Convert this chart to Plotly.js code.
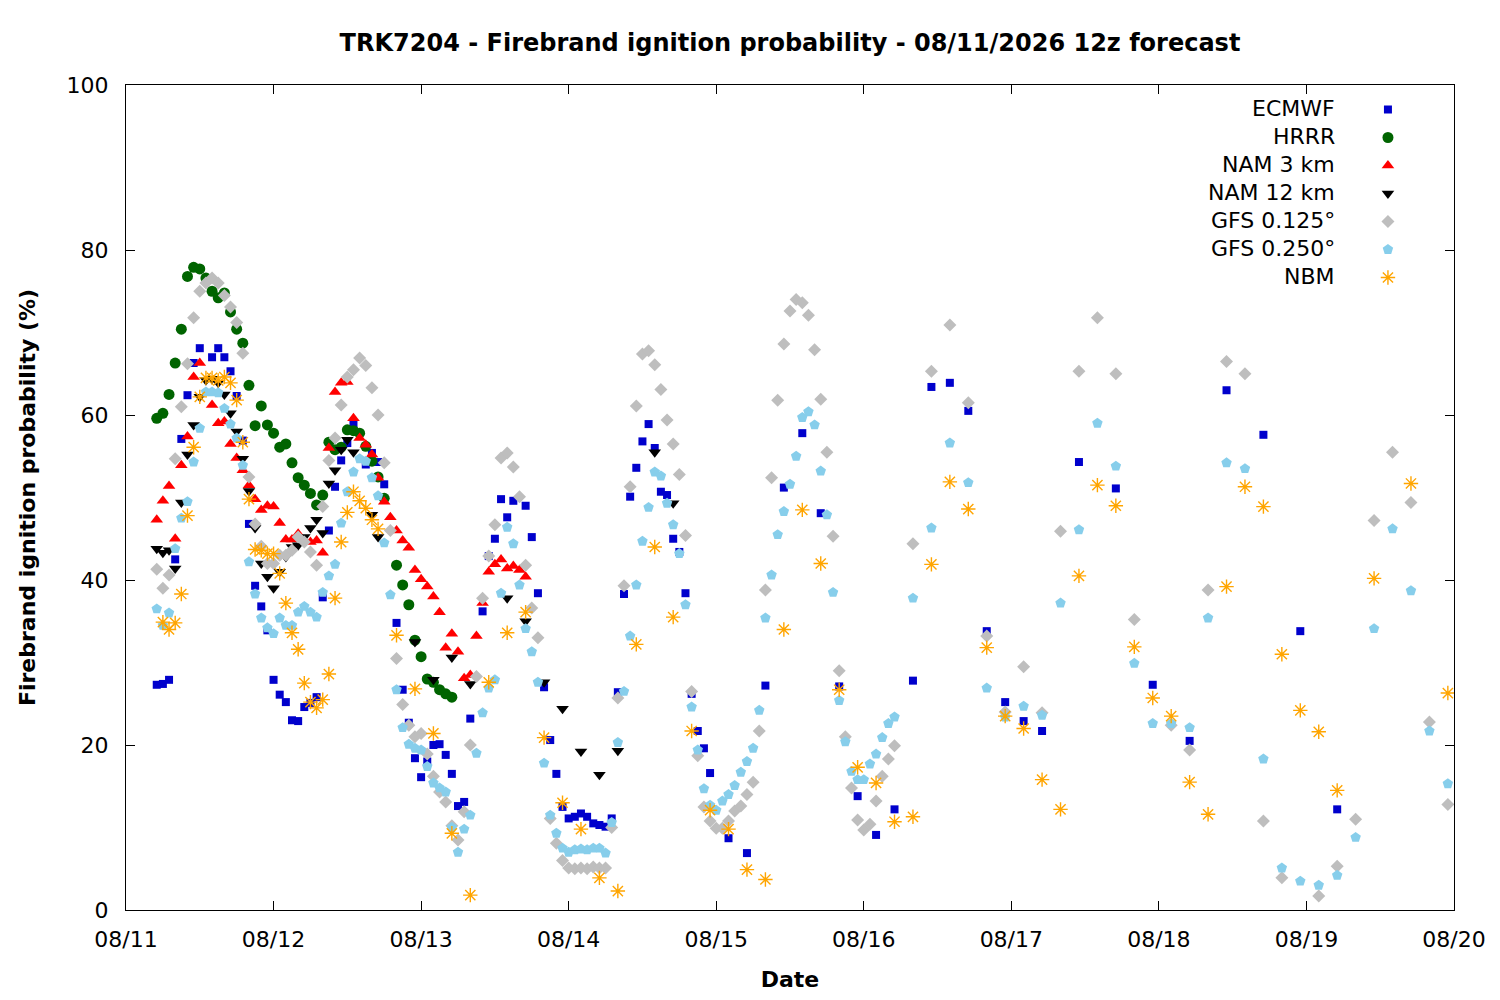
<!DOCTYPE html>
<html>
<head>
<meta charset="utf-8">
<script src="https://cdn.plot.ly/plotly-3.0.1.min.js"></script>
<style>
  body { margin: 0; background: #fff; }
  #myChart { width: 1500px; height: 1000px; }
</style>
</head>
<body>
<div id="myChart"></div>
<script>
// hours counted from 08/11 00 local time
function span(a, b, step) {
    var out = [];
    for (var h = a; h <= b; h += step) out.push(h);
    return out;
}

var day_ticks = [0, 24, 48, 72, 96, 120, 144, 168, 192, 216];
var day_labels = ['08/11', '08/12', '08/13', '08/14', '08/15', '08/16', '08/17', '08/18', '08/19', '08/20'];

// ECMWF: hourly, then 3-hourly, then 6-hourly
var ecmwf_hours = span(5, 95, 1).concat(span(98, 149, 3), span(155, 197, 6));
var ecmwf_prob = [
    27.3, 27.4, 27.9, 42.5, 57.1, 62.4, 66.3, 68.1, null, 67.0,
    68.1, 67.0, 65.3, 62.3, 56.9, 46.8, 39.3, 36.8, 33.9, 27.9,
    26.1, 25.2, 23.0, 22.9, 24.6, 25.1, 25.8, 37.9, 46.0, 51.3,
    54.5, 56.6, 59.0, null, 54.0, 55.4, 54.3, 51.6, null, 34.8,
    26.7, 22.7, 18.4, 16.1, 18.0, 20.0, 20.1, 18.8, 16.5, 12.6,
    13.1, 23.2, null, 36.2, 42.9, 45.0, 49.8, 47.6, 49.6, null,
    49.0, 45.2, 38.4, 27.0, 20.6, 16.5, 12.5, 11.1, 11.3, 11.7,
    11.3, 10.5, 10.3, 10.1, 11.1, 26.4, 38.3, 50.1, 53.6, 56.8,
    58.9, 56.0, 50.7, 50.3, 45.0, 43.4, 38.4, 26.2, 21.7, 19.6,
    16.6,
    8.7, 6.9, 27.2, 51.2, 57.8, 48.1, 27.1, 13.8, 9.1, 12.2,
    27.8, 63.4, 63.9, 60.5, 33.8, 25.2, 22.9, 21.7,
    54.3, 51.1, 27.3, 20.5, 63.0, 57.6, 33.8, 12.2
];

// HRRR: hourly
var hrrr_hours = span(5, 53, 1);
var hrrr_prob = [
    59.6, 60.2, 62.5, 66.3, 70.4, 76.8, 77.9, 77.7, 76.6, 75.0,
    74.2, 74.8, 72.5, 70.4, 68.7, 63.6, 58.7, 61.1, 58.8, 57.8,
    56.1, 56.5, 54.2, 52.4, 51.5, 50.5, 49.1, 50.3, 56.7, 55.8,
    56.1, 58.2, 58.1, 57.8, 56.2, 54.4, 52.5, 49.9, null, 41.8,
    39.4, 37.0, 32.7, 30.7, 28.0, 27.6, 26.7, 26.2, 25.8
];

// NAM 3 km: hourly
var nam3_hours = span(5, 65, 1);
var nam3_prob = [
    47.3, 49.6, 51.4, 45.0, 53.9, 57.4, 64.6, 66.3, null, 61.2,
    59.0, 59.2, 56.5, 54.8, 53.3, 51.5, 49.8, 48.5, 49.0, 48.9,
    46.9, 44.9, 44.9, 45.6, null, 44.6, 44.8, 43.3, 56.0, 62.8,
    63.9, 64.0, 59.6, 57.2, 56.4, 55.2, 52.4, 49.5, 47.6, 46.0,
    44.8, 43.9, 41.2, 40.1, 39.2, 38.0, 36.1, 31.8, 33.5, 31.3,
    28.1, 28.5, 33.2, 37.2, 41.0, 41.9, 42.5, 41.4, 41.7, 41.2,
    40.4
];

// NAM 12 km: hourly, then 3-hourly
var nam12_hours = span(5, 41, 1).concat(span(44, 89, 3));
var nam12_prob = [
    43.8, 43.3, 43.6, 41.4, 49.4, 55.2, 58.8, 62.2, 64.2, 64.4,
    63.9, 62.5, 60.2, 58.0, 54.7, 50.8, 46.3, 42.0, 40.4, 39.0,
    41.0, 42.8, 44.0, 44.2, 45.2, 46.3, 47.3, 45.7, 51.7, 53.3,
    55.8, 57.0, 55.5, null, null, 47.9, 45.2,
    null, 32.5, 27.9, 30.6, 27.4, null, 37.8, 35.0, 27.6, 24.4,
    19.2, 16.4, 19.3, null, 55.5, 49.3
];

// GFS 0.125: hourly, then 3-hourly
var gfs125_hours = span(5, 125, 1).concat(span(128, 215, 3));
var gfs125_prob = [
    41.3, 39.0, 40.6, 54.7, 61.0, 66.2, 71.8, 75.0, 76.0, 76.6,
    76.0, 74.5, 73.1, 71.2, 67.5, 52.5, 46.8, 44.1, 42.0, 42.0,
    43.0, 43.0, 43.6, 45.2, 44.6, 43.4, 41.8, 48.9, 54.5, 57.2,
    61.2, 64.6, 65.5, 66.9, 66.0, 63.3, 60.0, 54.2, 46.0, 30.5,
    24.9, 22.4, 21.0, 21.4, 18.9, 16.2, 14.3, 13.1, 10.2, 8.5,
    11.9, 20.0, 28.3, 37.8, 42.9, 46.7, 54.8, 55.4, 53.7, 50.1,
    41.8, 36.6, 33.0, null, 11.1, 8.1, 6.0, 5.1, 5.0, 5.1,
    5.0, 5.2, 5.1, 5.1, 10.0, 25.7, 39.3, 51.3, 61.1, 67.4,
    67.8, 66.1, 63.1, 59.4, 56.5, 52.8, 45.4, 26.5, 18.7, 12.5,
    10.8, 9.9, 9.9, 10.8, 12.0, 12.6, 14.0, 15.5, 21.7, 38.8,
    52.4, 61.8, 68.6, 72.6, 74.0, 73.6, 72.1, 67.9, 61.9, 55.5,
    45.3, 29.0, 21.0, 14.8, 10.9, 9.7, 10.4, 13.2, 16.2, 18.3,
    19.9,
    44.4, 65.3, 70.9, 61.5, 33.2, 24.0, 29.5, 23.9, 45.9, 65.3,
    71.8, 65.0, 35.2, null, 22.4, 19.4, 38.8, 66.5, 65.0, 10.8,
    3.9, null, 1.7, 5.3, 11.0, 47.2, 55.5, 49.4, 22.8, 12.8
];

// GFS 0.250: hourly, then 3-hourly
var gfs250_hours = span(5, 125, 1).concat(span(128, 215, 3));
var gfs250_prob = [
    36.5, 34.5, 36.0, 43.8, 47.5, 49.5, 54.3, 58.4, 62.8, 62.8,
    62.7, 60.8, 58.9, 57.2, 53.9, 42.2, 38.3, 35.4, 34.2, 33.5,
    35.4, 34.5, 34.5, 36.1, 36.8, 36.1, 35.5, 38.5, 40.5, 41.9,
    46.9, 50.7, 53.1, 54.7, 54.4, 52.4, 50.2, 44.5, 38.2, 26.7,
    22.1, 20.1, 19.6, 19.4, 17.4, 15.4, 14.8, 14.3, 10.0, 7.0,
    9.8, 11.5, 19.0, 23.9, 26.9, 27.9, 38.4, 46.4, 44.4, 39.4,
    34.1, 31.3, 27.6, 17.8, 11.5, 9.3, 7.5, 7.0, 7.3, 7.4,
    7.3, 7.5, 7.5, 6.9, 10.6, 20.3, 26.5, 33.2, 39.4, 44.7,
    48.8, 53.1, 52.6, 49.3, 46.7, 43.2, 37.0, 24.6, 19.4, 14.7,
    12.7, 12.1, 13.2, 14.0, 15.1, 16.7, 18.0, 19.6, 24.2, 35.4,
    40.6, 45.5, 48.3, 51.6, 55.0, 59.7, 60.4, 58.8, 53.2, 47.9,
    38.5, 25.4, 20.4, 16.8, 15.8, 15.8, 17.7, 18.9, 20.9, 22.6,
    23.4,
    37.8, 46.3, 56.6, 51.8, 26.9, 23.4, 24.7, 23.6, 37.2, 46.1,
    59.0, 53.8, 29.9, 22.6, 22.6, 22.1, 35.4, 54.2, 53.5, 18.3,
    5.1, 3.5, 3.0, 4.2, 8.8, 34.1, 46.2, 38.7, 21.7, 15.3
];

// NBM: hourly, then 3-hourly, then 6-hourly
var nbm_hours = span(6, 41, 1).concat(span(44, 197, 3), span(203, 215, 6));
var nbm_prob = [
    34.9, 34.0, 34.8, 38.3, 47.8, 56.1, 62.2, 64.5, 64.5, 64.2,
    64.6, 63.9, 61.8, 56.7, 49.8, 43.7, 43.6, 43.2, 43.2, 40.8,
    37.2, 33.6, 31.6, 27.5, 25.2, 24.5, 25.5, 28.6, 37.8, 44.6,
    48.2, 50.7, 49.6, 48.7, 47.3, 46.2,
    33.3, 26.8, 21.4, 9.3, 1.8, 27.6, 33.6, 36.1, 20.9, 13.0,
    9.8, 3.9, 2.3, 32.2, 44.0, 35.5, 21.7, 12.1, 9.8, 4.9,
    3.7, 34.0, 48.5, 42.0, 26.7, 17.3, 15.4, 10.7, 11.3, 41.9,
    51.9, 48.6, 31.8, 23.5, 22.0, 15.8, 12.2, 40.5, 51.5, 49.0,
    31.9, 25.7, 23.5, 15.5, 11.6, 39.2, 51.3, 48.9, 31.0, 24.2,
    21.6, 14.5,
    40.2, 51.7, 26.3
];

var series_names = ['ECMWF', 'HRRR', 'NAM 3 km', 'NAM 12 km', 'GFS 0.125°', 'GFS 0.250°', 'NBM'];

var FONT = 'DejaVu Sans, sans-serif';

function pts(idx, x, y, symbol, color, size) {
    return {
        x: x,
        y: y,
        name: series_names[idx],
        legendgroup: 'g' + idx,
        type: 'scatter',
        mode: 'markers',
        marker: {symbol: symbol, color: color, size: size, line: {width: 0}}
    };
}

var nbm = pts(6, nbm_hours, nbm_prob, 'asterisk-open', '#FFA500', 12);
nbm.marker.line = {color: '#FFA500', width: 1.4};

var data = [
    pts(0, ecmwf_hours, ecmwf_prob, 'square', '#0000CC', 8),
    pts(1, hrrr_hours, hrrr_prob, 'circle', '#006400', 11),
    pts(2, nam3_hours, nam3_prob, 'triangle-up', '#FF0000', 11),
    pts(3, nam12_hours, nam12_prob, 'triangle-down', '#000000', 11),
    pts(4, gfs125_hours, gfs125_prob, 'diamond', '#BEBEBE', 10),
    pts(5, gfs250_hours, gfs250_prob, 'pentagon', '#87CEEB', 11),
    nbm
];

// gnuplot style key: names right-aligned, sample symbol to their right.
// The plotly legend only draws the symbols (tiny transparent text, rows
// spaced by the group gap), the names are annotations in front of it.
var key_row = 28 / 825;           // row step in paper units
var key_first = (910 - 109) / 825; // paper y of first row centre
var annotations = series_names.map(function (nm, i) {
    return {
        text: nm,
        xref: 'paper', yref: 'paper',
        x: 0.9119, xanchor: 'right',
        y: key_first - i * key_row, yanchor: 'middle',
        showarrow: false,
        font: {family: FONT, size: 22, color: '#000'}
    };
});

var layout = {
    width: 1500,
    height: 1000,
    margin: {l: 126, r: 46, t: 85, b: 90, autoexpand: false},
    paper_bgcolor: '#fff',
    plot_bgcolor: '#fff',
    font: {family: FONT, size: 22, color: '#000'},
    title: {
        text: '<b>TRK7204 - Firebrand ignition probability - 08/11/2026 12z forecast</b>',
        font: {family: FONT, size: 24, color: '#000'},
        x: 0.5,
        xref: 'paper',
        xanchor: 'center',
        y: 0.957,
        yref: 'container',
        yanchor: 'middle'
    },
    xaxis: {
        range: [0, 216],
        tickvals: day_ticks,
        ticktext: day_labels,
        ticks: 'inside',
        ticklen: 9,
        tickcolor: '#000',
        ticklabelstandoff: 10,
        showline: true,
        linecolor: '#000',
        linewidth: 1,
        mirror: 'allticks',
        showgrid: false,
        zeroline: false,
        tickfont: {family: FONT, size: 22},
        title: {text: '<b>Date</b>', font: {family: FONT, size: 22}, standoff: 20}
    },
    yaxis: {
        range: [0, 100],
        tickvals: [0, 20, 40, 60, 80, 100],
        ticks: 'inside',
        ticklen: 9,
        tickcolor: '#000',
        ticklabelstandoff: 12,
        showline: true,
        linecolor: '#000',
        linewidth: 1,
        mirror: 'allticks',
        showgrid: false,
        zeroline: false,
        tickfont: {family: FONT, size: 22},
        title: {text: '<b>Firebrand ignition probability (%)</b>', font: {family: FONT, size: 22}, standoff: 24}
    },
    legend: {
        x: 0.9352,
        xanchor: 'left',
        y: (910 - 95) / 825,
        yanchor: 'top',
        bgcolor: 'rgba(0,0,0,0)',
        font: {family: FONT, size: 8, color: 'rgba(0,0,0,0)'},
        tracegroupgap: 9,
        itemwidth: 30
    },
    annotations: annotations,
    showlegend: true
};

Plotly.newPlot('myChart', data, layout, {displayModeBar: false, staticPlot: true});
</script>
</body>
</html>
